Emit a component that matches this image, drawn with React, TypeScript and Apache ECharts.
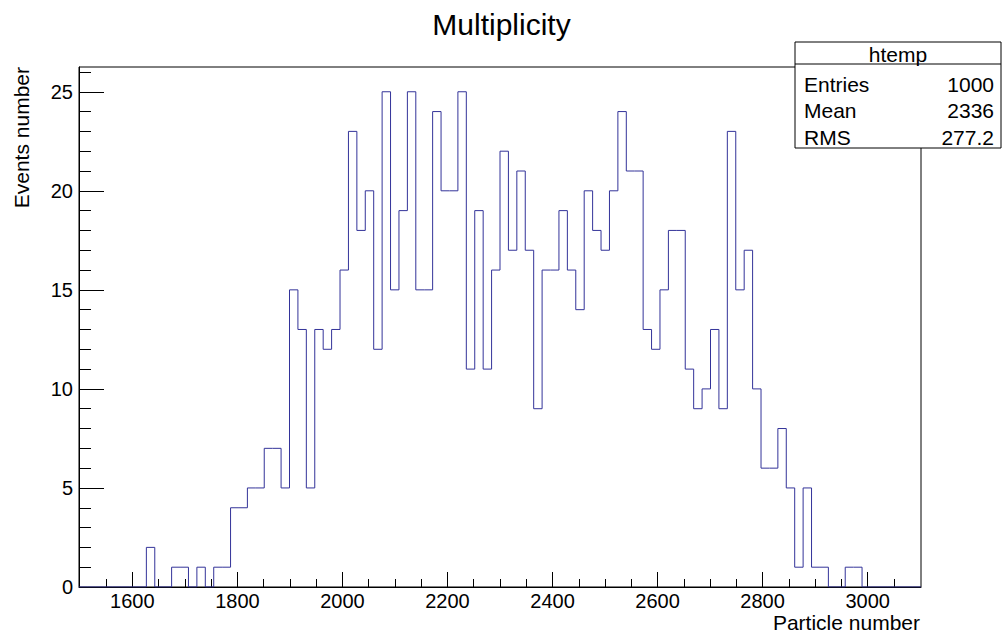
import React, { useEffect, useRef } from "react";
import * as echarts from "echarts";

// Histogram definition (100 bins)
const X_MIN = 1498.4;
const X_MAX = 3101.6;
const N_BINS = 100;
const COUNTS: number[] = [
  0, 0, 0, 0, 0, 0, 0, 0, 2, 0,
  0, 1, 1, 0, 1, 0, 1, 1, 4, 4,
  5, 5, 7, 7, 5, 15, 13, 5, 13, 12,
  13, 16, 23, 18, 20, 12, 25, 15, 19, 25,
  15, 15, 24, 20, 20, 25, 11, 19, 11, 16,
  22, 17, 21, 17, 9, 16, 16, 19, 16, 14,
  20, 18, 17, 20, 24, 21, 21, 13, 12, 15,
  18, 18, 11, 9, 10, 13, 9, 23, 15, 17,
  10, 6, 6, 8, 5, 1, 5, 1, 1, 0,
  0, 1, 1, 0, 0, 0, 0, 0, 0, 0,
];

const X_MAJOR = [1600, 1800, 2000, 2200, 2400, 2600, 2800, 3000];
const X_MINOR = [1550, 1650, 1700, 1750, 1850, 1900, 1950, 2050, 2100, 2150, 2250, 2300, 2350, 2450, 2500, 2550, 2650, 2700, 2750, 2850, 2900, 2950, 3050];
const Y_MAX = 26.25;
const Y_MAJOR = [0, 5, 10, 15, 20, 25];
const Y_MINOR = [1, 2, 3, 4, 6, 7, 8, 9, 11, 12, 13, 14, 16, 17, 18, 19, 21, 22, 23, 24, 26];

const STATS_NAME = "htemp";
const STATS_LABELS = ["Entries", "Mean", "RMS"];
const STATS_VALUES = ["1000", "2336", "277.2"];

const FONT = "'Liberation Sans', Arial, Helvetica, sans-serif";
const LINE_COLOR = "#333399";

export default function App() {
  const ref = useRef<HTMLDivElement>(null);

  useEffect(() => {
    if (!ref.current) return;
    const chart = echarts.init(ref.current, undefined, { renderer: "svg" });

    const binW = (X_MAX - X_MIN) / N_BINS;
    const stepData: [number, number][] = COUNTS.map((c, i) => [X_MIN + i * binW, c]);
    stepData.push([X_MAX, COUNTS[COUNTS.length - 1]]);

    const tickColor = "#000";

    const statsGraphics: any[] = [
      {
        type: "rect",
        shape: { x: 795, y: 42, width: 206, height: 106 },
        style: { fill: "#fff", stroke: "#000", lineWidth: 1 },
        z: 100,
      },
      {
        type: "line",
        shape: { x1: 795, y1: 64, x2: 1001, y2: 64 },
        style: { stroke: "#000", lineWidth: 1 },
        z: 101,
      },
      {
        type: "text",
        x: 898,
        y: 54,
        style: { text: STATS_NAME, font: `21px ${FONT}`, fill: "#000", textAlign: "center", textVerticalAlign: "middle" },
        z: 101,
      },
    ];
    STATS_LABELS.forEach((lab, i) => {
      const y = 84 + i * 26.5;
      statsGraphics.push({
        type: "text",
        x: 804,
        y,
        style: { text: lab, font: `21px ${FONT}`, fill: "#000", textAlign: "left", textVerticalAlign: "middle" },
        z: 101,
      });
      statsGraphics.push({
        type: "text",
        x: 994,
        y,
        style: { text: STATS_VALUES[i], font: `21px ${FONT}`, fill: "#000", textAlign: "right", textVerticalAlign: "middle" },
        z: 101,
      });
    });

    const option: any = {
      animation: false,
      backgroundColor: "#fff",
      title: {
        text: "Multiplicity",
        left: "center",
        top: 4,
        textStyle: { fontFamily: FONT, fontSize: 30, fontWeight: "normal", color: "#000" },
      },
      grid: {
        left: 79,
        right: 82,
        top: 67,
        bottom: 49,
        show: true,
        borderColor: "#000",
        borderWidth: 1,
        backgroundColor: "transparent",
      },
      xAxis: [
        {
          type: "value",
          min: X_MIN,
          max: X_MAX,
          position: "bottom",
          axisLine: { show: true, onZero: false, lineStyle: { color: tickColor, width: 1 } },
          axisTick: { show: true, inside: true, length: 15, customValues: X_MAJOR, lineStyle: { color: tickColor } },
          axisLabel: {
            show: true,
            customValues: X_MAJOR,
            formatter: (v: number) => String(v),
            margin: 4,
            color: "#000",
            fontFamily: FONT,
            fontSize: 20,
          },
          splitLine: { show: false },
        },
        {
          type: "value",
          min: X_MIN,
          max: X_MAX,
          position: "bottom",
          axisLine: { show: false, onZero: false },
          axisTick: { show: true, inside: true, length: 8, customValues: X_MINOR, lineStyle: { color: tickColor } },
          axisLabel: { show: false },
          splitLine: { show: false },
        },
      ],
      yAxis: [
        {
          type: "value",
          min: 0,
          max: Y_MAX,
          position: "left",
          axisLine: { show: true, onZero: false, lineStyle: { color: tickColor, width: 1 } },
          axisTick: { show: true, inside: true, length: 25, customValues: Y_MAJOR, lineStyle: { color: tickColor } },
          axisLabel: {
            show: true,
            customValues: Y_MAJOR,
            formatter: (v: number) => String(v),
            margin: 6,
            color: "#000",
            fontFamily: FONT,
            fontSize: 20,
          },
          splitLine: { show: false },
        },
        {
          type: "value",
          min: 0,
          max: Y_MAX,
          position: "left",
          axisLine: { show: false, onZero: false },
          axisTick: { show: true, inside: true, length: 12, customValues: Y_MINOR, lineStyle: { color: tickColor } },
          axisLabel: { show: false },
          splitLine: { show: false },
        },
      ],
      series: [
        {
          type: "line",
          name: STATS_NAME,
          xAxisIndex: 0,
          yAxisIndex: 0,
          step: "end",
          data: stepData,
          showSymbol: false,
          symbol: "none",
          lineStyle: { color: LINE_COLOR, width: 1 },
          clip: true,
          z: 5,
        },
      ],
      graphic: [
        {
          type: "text",
          x: 920,
          y: 622,
          style: { text: "Particle number", font: `21px ${FONT}`, fill: "#000", textAlign: "right", textVerticalAlign: "middle" },
        },
        {
          type: "text",
          x: 21,
          y: 67,
          rotation: Math.PI / 2,
          style: { text: "Events number", font: `21px ${FONT}`, fill: "#000", textAlign: "right", textVerticalAlign: "middle" },
        },
        ...statsGraphics,
      ],
    };

    chart.setOption(option);
    return () => chart.dispose();
  }, []);

  return (
    <div
      ref={ref}
      style={{ position: "absolute", left: 0, top: 0, width: 1003, height: 636, background: "#fff" }}
    />
  );
}
